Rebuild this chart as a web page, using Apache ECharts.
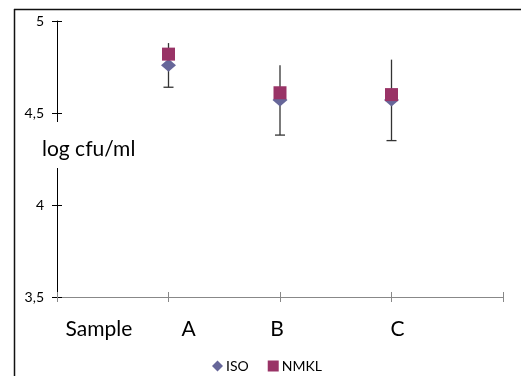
<!DOCTYPE html>
<html><head><meta charset="utf-8">
<script src="https://cdn.jsdelivr.net/npm/echarts@6/dist/echarts.min.js"></script>
<style>html,body{margin:0;padding:0;background:#fff}#c{width:521px;height:376px}</style>
</head><body><div id="c"></div>
<script>
var categories = ['Sample', 'A', 'B', 'C', ''];
var isoValues = [null, 4.76, 4.57, 4.57, null];
var nmklValues = [null, 4.82, 4.61, 4.60, null];
var errLow = [null, 4.64, 4.38, 4.35, null];
var errHigh = [null, 4.88, 4.76, 4.79, null];
var yTicks = [3.5, 4, 4.5, 5];
var yTickLabels = ['3,5', '4', '4,5', '5'];
var yName = 'log cfu/ml';

// horizontal shifts of category labels (style)
var labelShift = {Sample: 42, A: 20, B: -3, C: 6};

var rich = {};
categories.forEach(function (c, i) {
  var d = labelShift[c] || 0;
  rich['l' + i] = {
    fontSize: 21, fontFamily: 'Lato', color: '#000',
    padding: d >= 0 ? [0, 0, 0, 2 * d] : [0, -2 * d, 0, 0]
  };
});

var errData = [];
for (var i = 0; i < categories.length; i++) {
  if (errLow[i] != null) errData.push([i, errLow[i], errHigh[i]]);
}

var chart = echarts.init(document.getElementById('c'), null, {renderer: 'canvas'});
var font = 'Lato';
chart.setOption({
  animation: false,
  backgroundColor: '#fff',
  textStyle: {fontFamily: font},
  grid: {left: 57, right: 18, top: 21, bottom: 79},
  legend: {
    left: 207, top: 354, itemWidth: 11, itemHeight: 11, itemGap: 19,
    textStyle: {fontSize: 14, fontFamily: font, color: '#000', padding: [0, 0, 0, -2]},
    data: [{name: 'ISO', icon: 'diamond'}, {name: 'NMKL', icon: 'rect'}]
  },
  xAxis: [{
    type: 'category', data: categories, boundaryGap: false,
    axisLine: {lineStyle: {color: '#888', width: 1}},
    axisTick: {show: true, length: 5, lineStyle: {color: '#888'}, interval: 0},
    axisLabel: {
      margin: 22, interval: 0,
      formatter: function (v, idx) { return '{l' + idx + '|' + v + '}'; },
      rich: rich
    },
    splitLine: {show: false}
  }, {
    type: 'category', data: categories, boundaryGap: false, position: 'bottom',
    axisLine: {show: false},
    axisTick: {show: true, inside: true, length: 5, lineStyle: {color: '#888'}, interval: 0},
    axisLabel: {show: false}, splitLine: {show: false}
  }],
  yAxis: [{
    type: 'value', min: 3.5, max: 5, interval: 0.5,
    axisLine: {show: true, lineStyle: {color: '#000', width: 1}},
    axisTick: {show: true, length: 5, lineStyle: {color: '#000'}},
    axisLabel: {
      fontSize: 14, color: '#000', margin: 13, fontFamily: font,
      formatter: function (v) {
        var k = yTicks.indexOf(Math.round(v * 10) / 10);
        return k >= 0 ? yTickLabels[k] : '';
      }
    },
    splitLine: {show: false}
  }, {
    type: 'value', min: 3.5, max: 5, interval: 0.5, position: 'left',
    axisLine: {show: false},
    axisTick: {show: true, inside: true, length: 5, lineStyle: {color: '#000'}},
    axisLabel: {show: false}, splitLine: {show: false}
  }],
  series: [{
    name: 'err', type: 'custom', z: 1,
    data: errData,
    renderItem: function (params, api) {
      var x = api.value(0);
      var lo = api.coord([x, api.value(1)]);
      var hi = api.coord([x, api.value(2)]);
      return {type: 'group', children: [
        {type: 'line', shape: {x1: lo[0], y1: lo[1], x2: hi[0], y2: hi[1]},
          style: {stroke: '#333', lineWidth: 1.3}},
        {type: 'line', shape: {x1: lo[0] - 5, y1: lo[1], x2: lo[0] + 5, y2: lo[1]},
          style: {stroke: '#333', lineWidth: 1.3}}
      ]};
    }
  }, {
    name: 'ISO', type: 'scatter', z: 3, data: isoValues,
    symbol: 'diamond', symbolSize: [15, 13],
    itemStyle: {color: '#666699', opacity: 1}
  }, {
    name: 'NMKL', type: 'scatter', z: 4, data: nmklValues,
    symbol: 'rect', symbolSize: 13,
    itemStyle: {color: '#993366', opacity: 1}
  }],
  graphic: [
    {type: 'line', z: 10, shape: {x1: 14, y1: 9.5, x2: 521, y2: 9.5}, style: {stroke: '#111', lineWidth: 1.5}},
    {type: 'line', z: 10, shape: {x1: 14.5, y1: 9, x2: 14.5, y2: 376}, style: {stroke: '#111', lineWidth: 1.5}},
    {type: 'text', z: 20, left: 40, top: 122,
      style: {text: yName, fontSize: 21, fontFamily: font, fill: '#000',
        backgroundColor: '#fff', padding: [15, 3, 6, 2], lineHeight: 25}}
  ]
});
</script></body></html>
